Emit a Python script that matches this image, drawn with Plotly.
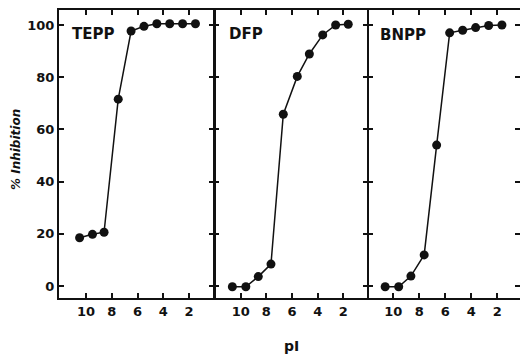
import plotly.graph_objects as go

# ---- data ----
panels = ["TEPP", "DFP", "BNPP"]

tepp_pI = [10.5, 9.5, 8.6, 7.5, 6.5, 5.5, 4.5, 3.5, 2.5, 1.5]
tepp_inh = [18.5, 19.8, 20.6, 71.6, 97.7, 99.5, 100.5, 100.5, 100.5, 100.5]

dfp_pI = [10.65, 9.6, 8.63, 7.64, 6.68, 5.59, 4.65, 3.61, 2.6, 1.62]
dfp_inh = [-0.3, -0.3, 3.6, 8.4, 65.8, 80.3, 88.9, 96.2, 100.0, 100.3]

bnpp_pI = [10.62, 9.58, 8.64, 7.62, 6.66, 5.66, 4.66, 3.66, 2.66, 1.64]
bnpp_inh = [-0.3, -0.3, 3.8, 11.9, 54.0, 97.0, 98.0, 99.0, 99.8, 100.0]

x_ticks = [10, 8, 6, 4, 2]
x_ticklabels = ["10", "8", "6", "4", "2"]
y_ticks = [0, 20, 40, 60, 80, 100]
y_ticklabels = ["0", "20", "40", "60", "80", "100"]

series_x = [tepp_pI, dfp_pI, bnpp_pI]
series_y = [tepp_inh, dfp_inh, bnpp_inh]

# ---- layout geometry ----
W, H = 520, 354
L, R, T, B = 59, 0, 10, 56
plot_w = W - L - R
plot_h = H - T - B
d1 = (214 - L) / plot_w
d2 = (368 - L) / plot_w
domains = [[0, d1], [d1, d2], [d2, 1.0]]
x_ranges = [[12.1, 0.06], [12.08, 0.08], [11.94, 0.25]]
y_range = [-4.6, 105.75]

FONT = "DejaVu Sans"
INK = "#111111"

fig = go.Figure()
for i in range(3):
    sfx = "" if i == 0 else str(i + 1)
    fig.add_trace(go.Scatter(
        x=series_x[i], y=series_y[i], mode="lines+markers",
        line=dict(color=INK, width=1.5),
        marker=dict(color=INK, size=9),
        xaxis="x" + sfx, yaxis="y" + sfx, showlegend=False,
    ))

tick_common = dict(ticks="inside", ticklen=5, tickwidth=1.5, tickcolor=INK,
                   showgrid=False, zeroline=False,
                   tickfont=dict(family=FONT, size=13, color=INK, weight="bold"))

layout = dict(width=W, height=H, margin=dict(l=L, r=R, t=T, b=B),
              paper_bgcolor="white", plot_bgcolor="white")
for i in range(3):
    sfx = "" if i == 0 else str(i + 1)
    layout["xaxis" + sfx] = dict(
        domain=domains[i], range=x_ranges[i], anchor="y" + sfx,
        tickmode="array", tickvals=x_ticks, ticktext=x_ticklabels,
        showline=True, linecolor=INK, linewidth=2, mirror="ticks",
        **tick_common)
    layout["yaxis" + sfx] = dict(
        domain=[0, 1], range=y_range, anchor="x" + sfx,
        tickmode="array", tickvals=y_ticks, ticktext=y_ticklabels,
        showticklabels=(i == 0),
        showline=(i == 0), linecolor=INK, linewidth=2, mirror="ticks",
        **tick_common)

fig.update_layout(**layout)

def px_x(px):
    return (px - L) / plot_w

def px_y(py):
    return (H - B - py) / plot_h

label_pos = [(70, 34), (227, 34), (378, 35)]
for name, (lx, ly) in zip(panels, label_pos):
    fig.add_annotation(text=name, x=px_x(lx), y=px_y(ly), xref="paper", yref="paper",
                       xanchor="left", yanchor="middle", showarrow=False,
                       font=dict(family=FONT, size=15, color=INK, weight="bold"))

fig.add_annotation(text="pI", x=px_x(291), y=px_y(346), xref="paper", yref="paper",
                   xanchor="center", yanchor="middle", showarrow=False,
                   font=dict(family=FONT, size=14, color=INK, weight="bold"))
fig.add_annotation(text="<i>% Inhibition</i>", x=px_x(16), y=px_y(150),
                   xref="paper", yref="paper", xanchor="center", yanchor="middle",
                   textangle=-90, showarrow=False,
                   font=dict(family=FONT, size=12, color=INK, weight="bold"))

# draw the divider lines between panels once (single 2px line each)
for dx in [d1, d2]:
    fig.add_shape(type="line", xref="paper", yref="paper", x0=dx, x1=dx, y0=0, y1=1,
                  line=dict(color=INK, width=2))

fig.write_html("out.html", config={"displayModeBar": False},
               post_script="document.body.style.margin='0';document.body.style.overflow='hidden';")
